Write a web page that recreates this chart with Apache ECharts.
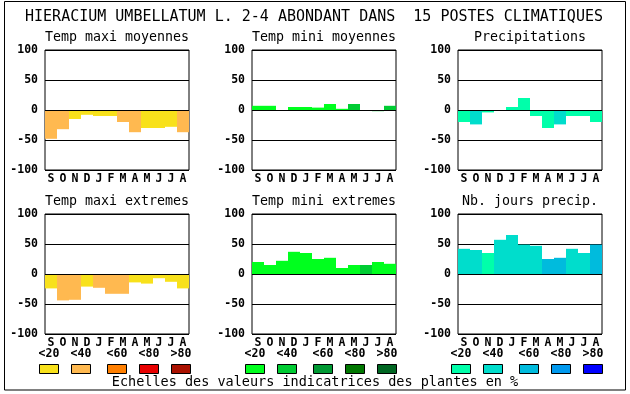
<!DOCTYPE html>
<html>
<head>
<meta charset="utf-8">
<script src="https://cdn.jsdelivr.net/npm/echarts@6/dist/echarts.min.js"></script>
<style>html,body{margin:0;padding:0;background:#fff;}#c{width:630px;height:394px;}</style>
</head>
<body>
<div id="c"></div>
<script>
const months = ['S','O','N','D','J','F','M','A','M','J','J','A'];
const yTicks = [-100, -50, 0, 50, 100];
const mainTitle = 'HIERACIUM UMBELLATUM L. 2-4 ABONDANT DANS  15 POSTES CLIMATIQUES';
const footer = 'Echelles des valeurs indicatrices des plantes en %';
const classLabels = ['<20', '<40', '<60', '<80', '>80'];

const orangeScale = ['#f8e11b', '#ffb950', '#ff7f00', '#e80000', '#aa1100'];
const greenScale = ['#00ff1e', '#00cc33', '#009933', '#007700', '#006622'];
const blueScale = ['#00ffaa', '#00ddcc', '#00bbdd', '#0099ee', '#0000ff'];

const titles = ['Temp maxi moyennes', 'Temp mini moyennes', 'Precipitations',
                'Temp maxi extremes', 'Temp mini extremes', 'Nb. jours precip.'];

const tmaxMoy = [-48, -32, -15, -8, -10, -10, -20, -37, -30, -30, -28, -37];
const tmaxMoyCls = [1, 1, 0, 0, 0, 0, 1, 1, 0, 0, 0, 1];
const tminMoy = [7, 7, 0, 5, 5, 4, 10, 2, 10, 0, -2, 7];
const tminMoyCls = [0, 0, 0, 0, 0, 0, 0, 0, 1, 0, 1, 1];
const precip = [-20, -24, -4, 0, 5, 20, -10, -30, -24, -10, -10, -20];
const precipCls = [0, 1, 0, 0, 0, 0, 0, 0, 1, 0, 0, 0];
const tmaxExt = [-24, -44, -43, -21, -23, -33, -33, -14, -16, -7, -13, -24];
const tmaxExtCls = [0, 1, 1, 0, 1, 1, 1, 0, 0, 0, 0, 0];
const tminExt = [20, 15, 22, 37, 35, 25, 27, 10, 15, 15, 20, 17];
const tminExtCls = [0, 0, 0, 0, 0, 0, 0, 0, 0, 1, 0, 0];
const nbJours = [42, 40, 35, 57, 65, 49, 47, 25, 27, 42, 35, 49];
const nbJoursCls = [1, 1, 0, 1, 1, 1, 1, 2, 2, 1, 1, 2];

const panels = [
  {vals: tmaxMoy, cls: tmaxMoyCls, scale: orangeScale},
  {vals: tminMoy, cls: tminMoyCls, scale: greenScale},
  {vals: precip, cls: precipCls, scale: blueScale},
  {vals: tmaxExt, cls: tmaxExtCls, scale: orangeScale},
  {vals: tminExt, cls: tminExtCls, scale: greenScale},
  {vals: nbJours, cls: nbJoursCls, scale: blueScale}
];

const colLeft = [45, 252, 458];
const rowTop = [50, 214];
const plotW = 144, plotH = 120;
const MONO = '"DejaVu Sans Mono", "Liberation Mono", monospace';

const grids = [], xAxes = [], yAxes = [], series = [], graphics = [];

panels.forEach((p, i) => {
  const col = i % 3, row = Math.floor(i / 3);
  grids.push({left: colLeft[col], top: rowTop[row], width: plotW, height: plotH,
    show: true, borderColor: '#000', borderWidth: 1, backgroundColor: '#fff'});
  xAxes.push({type: 'category', gridIndex: i, data: months,
    axisLine: {show: false}, axisTick: {show: false},
    axisLabel: {interval: 0, margin: 3, color: '#000', fontFamily: MONO, fontWeight: 'bold', fontSize: 11.5},
    splitLine: {show: false}});
  yAxes.push({type: 'value', gridIndex: i, min: yTicks[0], max: yTicks[yTicks.length - 1], interval: 50,
    axisLine: {show: false}, axisTick: {show: false},
    axisLabel: {margin: 7, color: '#000', fontFamily: MONO, fontWeight: 'bold', fontSize: 11.5},
    splitLine: {show: true, lineStyle: {color: '#000', width: 1}}});
  series.push({type: 'bar', xAxisIndex: i, yAxisIndex: i, barCategoryGap: '0%', barWidth: '100%',
    animation: false, silent: true,
    data: p.vals.map((v, k) => ({value: v, itemStyle: {color: p.scale[p.cls[k]]}})),
    markLine: {silent: true, symbol: ['none', 'none'], animation: false,
      label: {show: false}, lineStyle: {color: '#000', width: 1, type: 'solid'},
      data: [{yAxis: 0}]}
  });
  graphics.push({type: 'text', left: null, x: colLeft[col] + plotW / 2, y: rowTop[row] - 12,
    style: {text: titles[i], font: '13.3px ' + MONO, fill: '#000', textAlign: 'center', textVerticalAlign: 'middle'}});
});

// title and footer
graphics.push({type: 'text', x: 314, y: 17,
  style: {text: mainTitle, font: '15px ' + MONO, fill: '#000', textAlign: 'center', textVerticalAlign: 'middle'}});
graphics.push({type: 'text', x: 315, y: 382,
  style: {text: footer, font: '13.5px ' + MONO, fill: '#000', textAlign: 'center', textVerticalAlign: 'middle'}});
// frame
graphics.push({type: 'rect', shape: {x: 4.5, y: 1.5, width: 621, height: 388.5},
  style: {fill: 'none', stroke: '#000', lineWidth: 1}, z: -1});

// colour scale legends
const groupStart = [39, 245, 451];
const boxOffset = [0, 32, 68, 100, 132];
const scales = [orangeScale, greenScale, blueScale];
scales.forEach((sc, g) => {
  sc.forEach((c, k) => {
    const x = groupStart[g] + boxOffset[k];
    graphics.push({type: 'rect', shape: {x: x + 0.5, y: 364.5, width: 19, height: 9},
      style: {fill: c, stroke: '#000', lineWidth: 1}});
    graphics.push({type: 'text', x: x + 10, y: 354,
      style: {text: classLabels[k], font: 'bold 11.5px ' + MONO, fill: '#000', textAlign: 'center', textVerticalAlign: 'middle'}});
  });
});

const chart = echarts.init(document.getElementById('c'), null, {renderer: 'canvas'});
chart.setOption({
  animation: false,
  backgroundColor: '#fff',
  grid: grids, xAxis: xAxes, yAxis: yAxes, series: series,
  graphic: graphics
});
</script>
</body>
</html>
